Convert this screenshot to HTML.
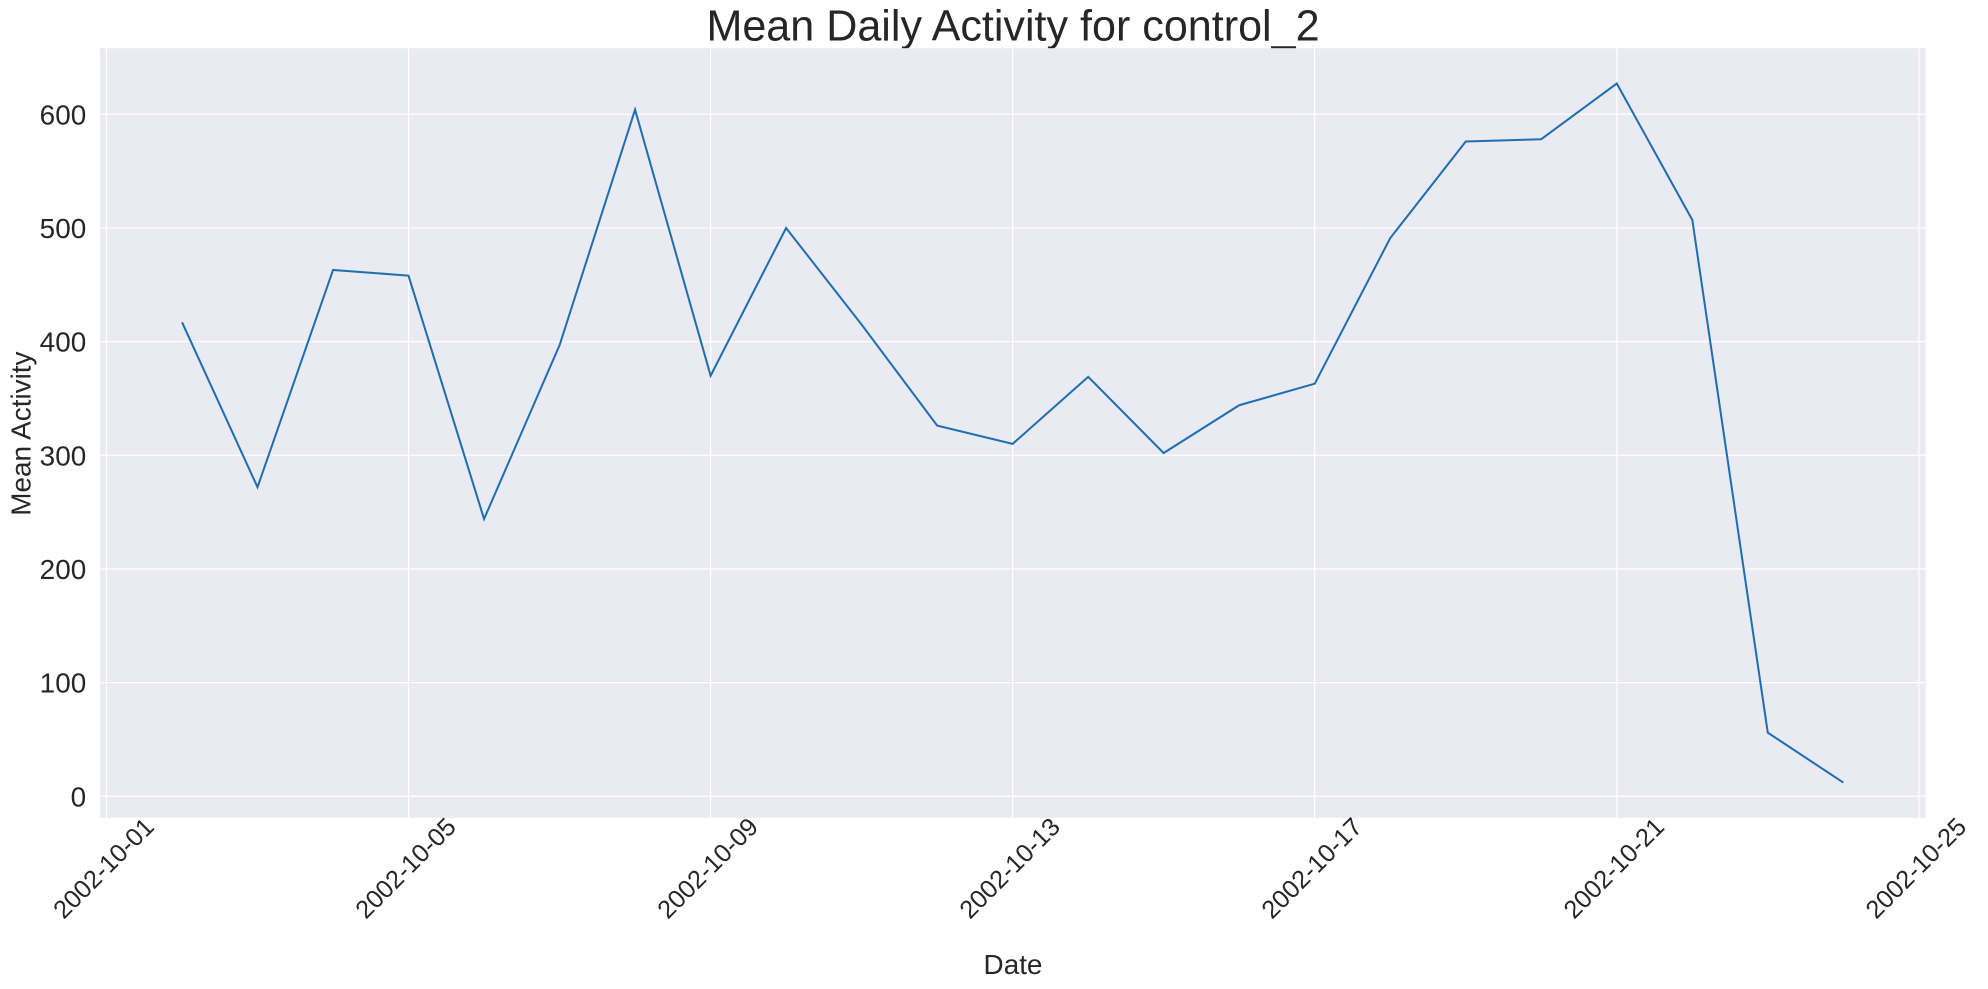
<!DOCTYPE html>
<html><head><meta charset="utf-8">
<style>
body{margin:0;background:#fff;}
svg{display:block;font-family:"Liberation Sans",sans-serif;}
</style></head>
<body>
<svg id="chart" width="1988" height="989" viewBox="0 0 1568 780" preserveAspectRatio="none">
<text x="799" y="32" font-size="34" text-anchor="middle" fill="#262626">Mean Daily Activity for control_2</text>
<rect x="79" y="38" width="1440" height="607" fill="#eaeaf2"/>
<g id="grid"></g>
<g id="yticks"></g>
<g id="xticks"></g>
<path id="line" fill="none" stroke="#1f6fb0" stroke-width="1.6"/>
<text x="799" y="768" font-size="22" text-anchor="middle" fill="#262626">Date</text>
<text transform="translate(24,342) rotate(-90)" font-size="22" text-anchor="middle" fill="#262626">Mean Activity</text>
</svg>
<script>
const dates = ["2002-10-02","2002-10-03","2002-10-04","2002-10-05","2002-10-06","2002-10-07","2002-10-08","2002-10-09","2002-10-10","2002-10-11","2002-10-12","2002-10-13","2002-10-14","2002-10-15","2002-10-16","2002-10-17","2002-10-18","2002-10-19","2002-10-20","2002-10-21","2002-10-22","2002-10-23","2002-10-24"];
const values = [417,272,463,458,244,397,604,370,500,415,326,310,369,302,344,363,491,576,578,627,507,56,12];
const yTicks = [0,100,200,300,400,500,600];
const xTickLabels = ["2002-10-01","2002-10-05","2002-10-09","2002-10-13","2002-10-17","2002-10-21","2002-10-25"];

const NS="http://www.w3.org/2000/svg";
const day0=Date.UTC(2002,9,1);
function dayOf(s){const p=s.split("-");return (Date.UTC(+p[0],+p[1]-1,+p[2])-day0)/86400000;}
function xs(s){return 84+dayOf(s)*59.56;}
function ys(v){return 628-v*0.8965;}
const grid=document.getElementById("grid"),yt=document.getElementById("yticks"),xt=document.getElementById("xticks");
yTicks.forEach(v=>{
  const l=document.createElementNS(NS,"line");
  l.setAttribute("x1",79);l.setAttribute("x2",1519);l.setAttribute("y1",ys(v));l.setAttribute("y2",ys(v));
  l.setAttribute("stroke","#fff");l.setAttribute("stroke-width","1");
  
  
  grid.appendChild(l);
  const t=document.createElementNS(NS,"text");
  t.setAttribute("x",68);t.setAttribute("y",ys(v)+8);t.setAttribute("font-size","22");t.setAttribute("text-anchor","end");t.setAttribute("fill","#262626");
  t.textContent=v;
  
  
  yt.appendChild(t);
});
xTickLabels.forEach(s=>{
  const x=xs(s);
  const l=document.createElementNS(NS,"line");
  l.setAttribute("x1",x);l.setAttribute("x2",x);l.setAttribute("y1",38);l.setAttribute("y2",645);
  l.setAttribute("stroke","#fff");l.setAttribute("stroke-width","1");
  
  
  grid.appendChild(l);
  const t=document.createElementNS(NS,"text");
  t.setAttribute("transform","translate("+(x-2)+",685) rotate(-45)");
  t.setAttribute("font-size","20");t.setAttribute("text-anchor","middle");t.setAttribute("fill","#262626");
  t.setAttribute("dominant-baseline","central");
  t.textContent=s;
  
  
  xt.appendChild(t);
});
document.getElementById("line").setAttribute("d",dates.map((d,i)=>(i?"L":"M")+xs(d).toFixed(1)+","+ys(values[i]).toFixed(1)).join(""));
</script>
</body></html>
